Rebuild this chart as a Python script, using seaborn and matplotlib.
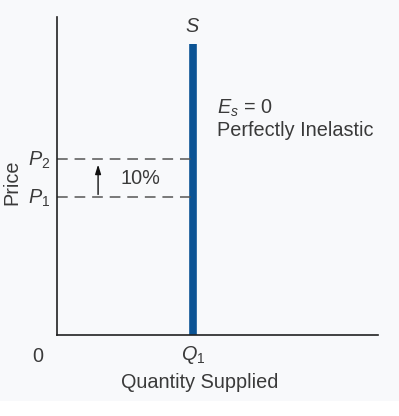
import matplotlib
matplotlib.use("Agg")
import matplotlib.pyplot as plt
import seaborn as sns
import pandas as pd
from matplotlib.patches import Rectangle

sns.set_style("white")
plt.rcParams['font.family'] = ['Liberation Sans', 'DejaVu Sans']
plt.rcParams['mathtext.fontset'] = 'custom'
plt.rcParams['mathtext.rm'] = 'Liberation Sans'
plt.rcParams['mathtext.it'] = 'Liberation Sans:italic'
plt.rcParams['mathtext.bf'] = 'Liberation Sans:bold'

# Data
q1 = 4.24
p1 = 4.34
p2 = 5.53
supply_top = 9.15
supply_x = [q1, q1]
supply_y = [0, supply_top]
price_labels = ["$P_1$", "$P_2$"]
price_values = [p1, p2]
pct_change = "10%"

FS = 14.3
tc = "#3a3a3a"

fig = plt.figure(figsize=(3.99, 4.16), dpi=100, facecolor="#f8f9fb")
fig.patches.append(Rectangle((0, 0), 1, 15/416, transform=fig.transFigure,
                             facecolor="white", edgecolor="none", zorder=0))
ax = fig.add_axes([57/399, 81/416, 321/399, 318/416])
ax.set_facecolor("#f8f9fb")

df = pd.DataFrame({"q": supply_x, "p": supply_y})
sns.lineplot(data=df, x="q", y="p", ax=ax, color="#0b5394", linewidth=5.5,
             solid_capstyle="butt", sort=False, estimator=None)

for pv in price_values:
    ax.plot([0, q1], [pv, pv], color="#555555", linewidth=1.1,
            linestyle=(0, (7, 4.5)))

ax.annotate("", xy=(1.28, 5.36), xytext=(1.28, 4.42),
            arrowprops=dict(arrowstyle="-|>,head_length=0.55,head_width=0.17",
                            color="#111111", lw=1.0, shrinkA=0, shrinkB=0))
ax.text(1.97, 4.92, pct_change, fontsize=FS, color=tc, va="center", ha="left")

ax.set_xlim(0, 10)
ax.set_ylim(0, 10)
ax.set_xticks([])
ax.set_yticks([])
ax.set_xlabel("")
ax.set_ylabel("")
for s in ["top", "right"]:
    ax.spines[s].set_visible(False)
for s in ["left", "bottom"]:
    ax.spines[s].set_color("#222222")
    ax.spines[s].set_linewidth(1.2)

for lab, pv in zip(price_labels, price_values):
    ax.text(-0.9, pv - 0.05, lab, fontsize=FS, color=tc, ha="left", va="center",
            transform=ax.transData, clip_on=False)
fig.text(12/399, 1 - 182/416, "Price", rotation=90, fontsize=FS, color=tc,
         ha="center", va="center")
fig.text(38/399, 1 - 357/416, "0", fontsize=FS, color=tc, ha="center", va="center")
fig.text(193/399, 1 - 355/416, "$Q_1$", fontsize=FS, color=tc, ha="center", va="center")
fig.text(200/399, 1 - 383/416, "Quantity Supplied", fontsize=FS, color=tc,
         ha="center", va="center")
fig.text(193/399, 1 - 27/416, "$S$", fontsize=FS, color=tc, ha="center", va="center")
fig.text(217/399, 1 - 108/416, "$E_s$ = 0", fontsize=FS, color=tc, ha="left", va="center")
fig.text(217/399, 1 - 130/416, "Perfectly Inelastic", fontsize=FS, color=tc,
         ha="left", va="center")

fig.savefig("out.png", dpi=100, facecolor=fig.get_facecolor())
